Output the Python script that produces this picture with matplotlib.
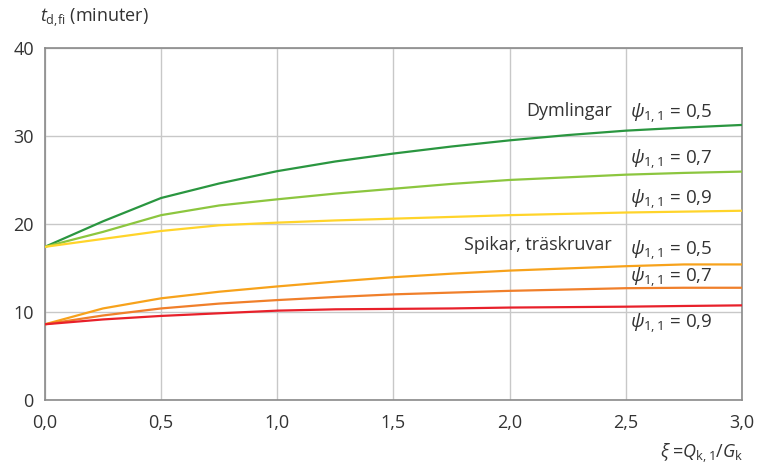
import matplotlib.pyplot as plt
import numpy as np

plt.rcParams['font.family'] = ['Open Sans', 'DejaVu Sans']
plt.rcParams['mathtext.fontset'] = 'custom'
plt.rcParams['mathtext.rm'] = 'Open Sans'
plt.rcParams['mathtext.it'] = 'Open Sans:italic'

# xi values where curves were read
xi = [0.0, 0.25, 0.5, 0.75, 1.0, 1.25, 1.5, 1.75, 2.0, 2.25, 2.5, 2.75, 3.0]

# Dymlingar
dym_05 = [17.4, 20.3, 22.95, 24.6, 26.0, 27.1, 28.0, 28.8, 29.5, 30.1, 30.6, 30.95, 31.25]
dym_07 = [17.4, 19.1, 21.0, 22.1, 22.8, 23.45, 24.0, 24.55, 25.0, 25.3, 25.6, 25.8, 25.95]
dym_09 = [17.4, 18.3, 19.2, 19.85, 20.15, 20.4, 20.6, 20.8, 21.0, 21.15, 21.3, 21.4, 21.5]

# Spikar, träskruvar
spi_05 = [8.6, 10.4, 11.55, 12.3, 12.9, 13.45, 13.95, 14.35, 14.7, 14.95, 15.2, 15.4, 15.4]
spi_07 = [8.6, 9.6, 10.4, 10.95, 11.35, 11.7, 12.0, 12.2, 12.4, 12.55, 12.7, 12.75, 12.75]
spi_09 = [8.6, 9.15, 9.55, 9.85, 10.15, 10.3, 10.35, 10.4, 10.5, 10.55, 10.6, 10.68, 10.75]

series = [dym_05, dym_07, dym_09, spi_05, spi_07, spi_09]
colors = ['#2a9640', '#8cc63f', '#ffd42a', '#f7a21b', '#f07f2a', '#e8202a']

psi_labels = ['0,5', '0,7', '0,9', '0,5', '0,7', '0,9']
psi_y = [32.6, 27.4, 22.8, 17.0, 14.0, 8.7]

fig = plt.figure(figsize=(7.61, 4.70), dpi=100)
ax = fig.add_axes([0.059, 0.149, 0.916, 0.749])

for s, c in zip(series, colors):
    ax.plot(xi, s, color=c, lw=1.6, zorder=3)

ax.set_xlim(0, 3)
ax.set_ylim(0, 40)
ax.set_xticks(np.arange(0, 3.01, 0.5))
ax.set_xticklabels(['0,0', '0,5', '1,0', '1,5', '2,0', '2,5', '3,0'])
ax.set_yticks([0, 10, 20, 30, 40])
ax.grid(True, color='#c8c8c8', lw=1)
ax.set_axisbelow(True)
for sp in ax.spines.values():
    sp.set_color('#8a8a8a')
    sp.set_linewidth(1.2)
ax.tick_params(length=0, labelsize=13, colors='#333333', pad=8)
ax.tick_params(axis='x', pad=10)

for lab, y in zip(psi_labels, psi_y):
    ax.text(2.52, y, r'$\psi_{1,1}$ = ' + lab, fontsize=13.5, color='#333333',
            ha='left', va='center')

ax.text(2.44, 32.8, 'Dymlingar', fontsize=13, color='#333333', ha='right', va='center')
ax.text(2.44, 17.6, 'Spikar, träskruvar', fontsize=13, color='#333333', ha='right', va='center')

fig.text(0.052, 0.962, r'$t_{\mathrm{d,\!fi}}$ (minuter)', fontsize=13, color='#333333',
         ha='left', va='center')
fig.text(0.977, 0.035, r'$\xi$ =$Q_{\mathrm{k,1}}$/$G_{\mathrm{k}}$', fontsize=13,
         color='#333333', ha='right', va='center')

fig.savefig('out.png', dpi=100)
